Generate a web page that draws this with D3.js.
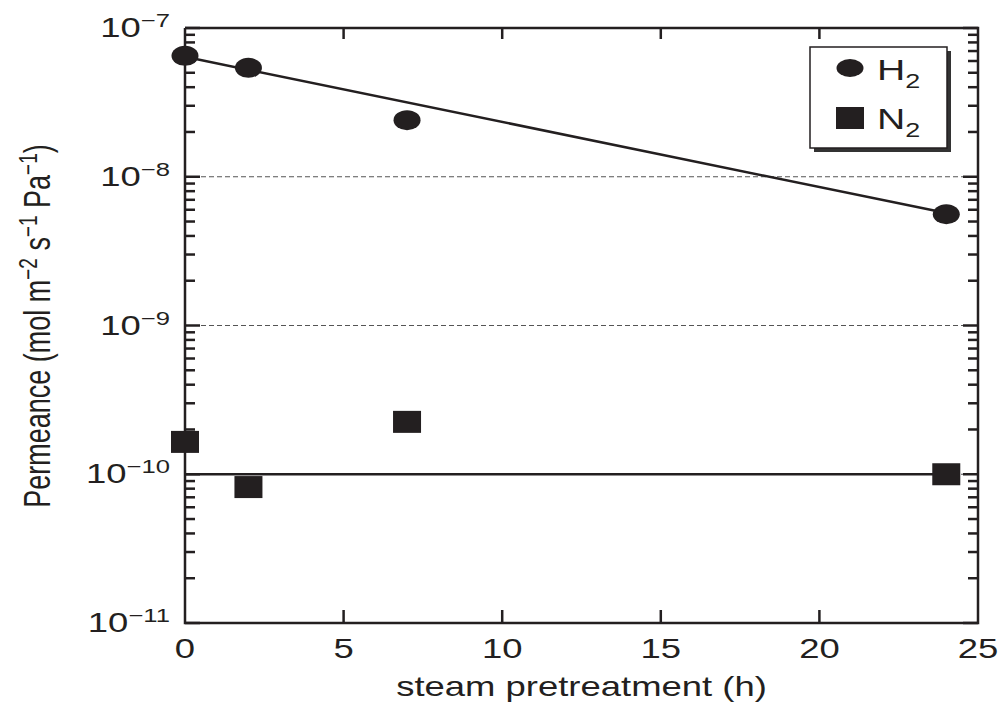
<!DOCTYPE html>
<html>
<head>
<meta charset="utf-8">
<script src="https://cdn.jsdelivr.net/npm/d3@7"></script>
<style>
  body { margin: 0; background: #fff; }
  svg { display: block; }
  text { font-family: "Liberation Sans", Arial, Helvetica, sans-serif; fill: #231f20; }
</style>
</head>
<body>
<svg id="chart" width="999" height="702"></svg>
<script>
// data
const hours = [0, 2, 7, 24];
const h2 = [6.5e-8, 5.4e-8, 2.4e-8, 5.6e-9];
const n2 = [1.65e-10, 8.2e-11, 2.25e-10, 1.0e-10];
// fitted lines (start / end)
const h2FitX = [0, 24];
const h2FitY = [6.4e-8, 5.7e-9];
const n2FitX = [0, 24];
const n2FitY = [1e-10, 1e-10];
// ticks
const xTicks = [0, 5, 10, 15, 20, 25];
const yTickExps = [-11, -10, -9, -8, -7];
const gridExps = [-10, -9, -8];

// plot box
const plotLeft = 185, plotRight = 978, plotTop = 28, plotBottom = 623;
const sx = 1.35;       // the source picture is stretched sideways
const ink = "#231f20";

const svg = d3.select("#chart");
svg.append("rect").attr("width", 999).attr("height", 702).attr("fill", "#fff");

const x = d3.scaleLinear().domain([0, 25]).range([plotLeft, plotRight]);
const y = d3.scaleLog().domain([1e-11, 1e-7]).range([plotBottom, plotTop]);

// dashed grid lines
svg.append("g")
  .selectAll("line")
  .data(gridExps)
  .join("line")
    .attr("x1", plotLeft).attr("x2", plotRight)
    .attr("y1", d => y(Math.pow(10, d))).attr("y2", d => y(Math.pow(10, d)))
    .attr("stroke", "#555")
    .attr("stroke-width", 1.2)
    .attr("stroke-dasharray", "5,3");

// ticks, all pointing inward
const majors = yTickExps.map(e => Math.pow(10, e));
const minors = y.ticks().filter(v => Math.abs(Math.log10(v) - Math.round(Math.log10(v))) > 1e-6);
const yTicks = majors.map(v => ({ v, len: 15 })).concat(minors.map(v => ({ v, len: 10 })));

const seg = d3.line();
const tickSegs = [];
yTicks.forEach(d => {
  tickSegs.push([[plotLeft, y(d.v)], [plotLeft + d.len, y(d.v)]]);
  tickSegs.push([[plotRight, y(d.v)], [plotRight - d.len, y(d.v)]]);
});
xTicks.slice(1, -1).forEach(v => {
  tickSegs.push([[x(v), plotBottom], [x(v), plotBottom - 13]]);
  tickSegs.push([[x(v), plotTop], [x(v), plotTop + 11]]);
});
svg.append("g")
  .selectAll("path")
  .data(tickSegs)
  .join("path")
    .attr("d", seg)
    .attr("fill", "none")
    .attr("stroke", ink)
    .attr("stroke-width", 2.5);

// frame
svg.append("path")
  .datum([[plotLeft, plotTop], [plotRight, plotTop], [plotRight, plotBottom], [plotLeft, plotBottom], [plotLeft, plotTop]])
  .attr("d", seg)
  .attr("fill", "none").attr("stroke", ink).attr("stroke-width", 2.5);

// x tick labels
svg.append("g")
  .selectAll("text")
  .data(xTicks)
  .join("text")
    .attr("transform", d => `translate(${x(d)},658) scale(${sx},1)`)
    .attr("text-anchor", "middle")
    .attr("font-size", 27)
    .text(d => d);

// y tick labels: 10^n
const yLab = svg.append("g")
  .selectAll("text")
  .data(yTickExps)
  .join("text")
    .attr("transform", d => `translate(170,${y(Math.pow(10, d)) + 9}) scale(${sx},1)`)
    .attr("text-anchor", "end")
    .attr("font-size", 27);
yLab.append("tspan").text("10");
yLab.append("tspan").attr("font-size", 19).attr("dy", -10).text(d => "\u2212" + Math.abs(d));

// axis titles
svg.append("text")
  .attr("transform", `translate(${(plotLeft + plotRight) / 2},696) scale(${sx},1)`)
  .attr("text-anchor", "middle")
  .attr("font-size", 27)
  .text("steam pretreatment (h)");

const yt = svg.append("text")
  .attr("transform", `translate(50,326) scale(${sx},1) rotate(-90)`)
  .attr("text-anchor", "middle")
  .attr("font-size", 27);
yt.append("tspan").text("Permeance (mol m");
yt.append("tspan").attr("font-size", 19).attr("dy", -10).text("\u22122");
yt.append("tspan").attr("dy", 10).text(" s");
yt.append("tspan").attr("font-size", 19).attr("dy", -10).text("\u22121");
yt.append("tspan").attr("dy", 10).text(" Pa");
yt.append("tspan").attr("font-size", 19).attr("dy", -10).text("\u22121");
yt.append("tspan").attr("dy", 10).text(")");

// fit lines
const line = d3.line().x(d => x(d[0])).y(d => y(d[1]));
svg.append("path")
  .datum(d3.zip(h2FitX, h2FitY))
  .attr("d", line)
  .attr("fill", "none").attr("stroke", ink).attr("stroke-width", 2.5);
svg.append("path")
  .datum(d3.zip(n2FitX, n2FitY))
  .attr("d", line)
  .attr("fill", "none").attr("stroke", ink).attr("stroke-width", 2.5);

// markers
const rx = 13.5, ry = 10, sqW = 28, sqH = 22;
svg.append("g")
  .selectAll("ellipse")
  .data(d3.zip(hours, h2))
  .join("ellipse")
    .attr("cx", d => x(d[0])).attr("cy", d => y(d[1]))
    .attr("rx", rx).attr("ry", ry)
    .attr("fill", ink);
svg.append("g")
  .selectAll("rect")
  .data(d3.zip(hours, n2))
  .join("rect")
    .attr("x", d => x(d[0]) - sqW / 2).attr("y", d => y(d[1]) - sqH / 2)
    .attr("width", sqW).attr("height", sqH)
    .attr("fill", ink);

// legend
const lg = svg.append("g").attr("transform", "translate(810,47)");
lg.append("rect").attr("x", 4).attr("y", 4).attr("width", 137).attr("height", 101).attr("fill", "#333");
lg.append("rect").attr("width", 137).attr("height", 101)
  .attr("fill", "#fff").attr("stroke", ink).attr("stroke-width", 1.5);
lg.append("ellipse").attr("cx", 40).attr("cy", 21).attr("rx", rx).attr("ry", ry - 1).attr("fill", ink);
lg.append("rect").attr("x", 40 - sqW / 2).attr("y", 71 - sqH / 2).attr("width", sqW).attr("height", sqH).attr("fill", ink);

[["H", 33], ["N", 82]].forEach(([s, by]) => {
  const t = lg.append("text")
    .attr("transform", `translate(67,${by}) scale(${sx},1)`)
    .attr("font-size", 29);
  t.append("tspan").text(s);
  t.append("tspan").attr("font-size", 20).attr("dy", 8).text("2");
});
</script>
</body>
</html>
